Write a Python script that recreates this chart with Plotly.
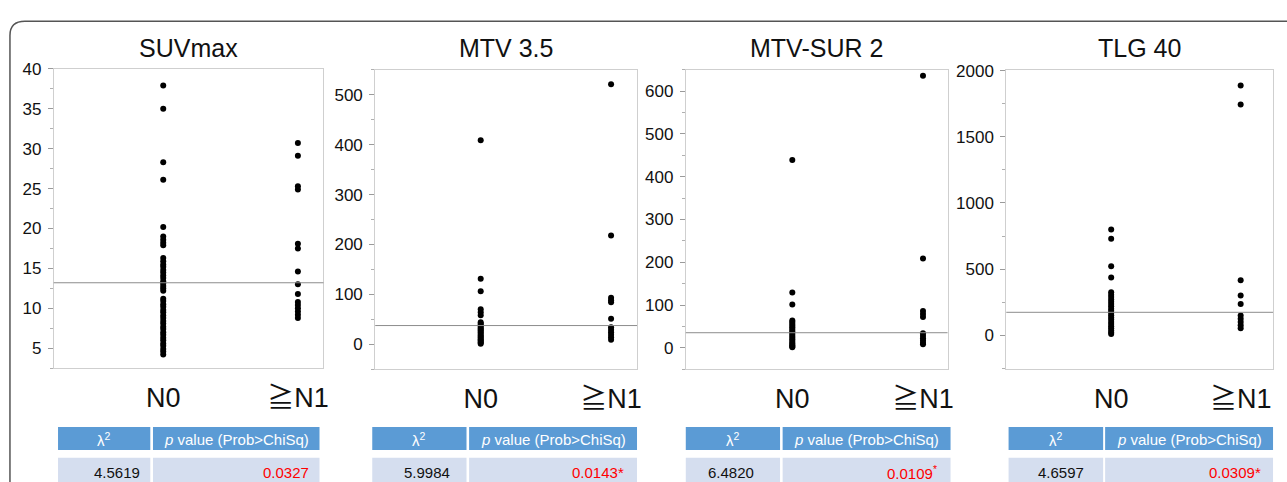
import plotly.graph_objects as go

W, H = 1287, 482

# ---------------- data ----------------
panel_titles = ["SUVmax", "MTV 3.5", "MTV-SUR 2", "TLG 40"]
group_labels = ["N0", "≧N1"]

suv_n0 = [37.9, 35.0, 28.3, 26.1, 20.2, 19.0, 18.6, 18.2, 17.9,
          16.3, 15.9, 15.5, 15.2, 14.8, 14.5, 14.1, 13.8, 13.4, 13.1, 12.8, 12.5, 12.2,
          11.2, 10.9, 10.5, 10.2, 9.8, 9.5, 9.1, 8.8, 8.4, 8.1, 7.7, 7.4, 7.0, 6.7,
          6.3, 6.0, 5.6, 5.3, 4.9, 4.6, 4.2]
suv_n1 = [30.7, 29.1, 25.3, 24.9, 18.1, 17.5, 14.6, 13.0, 11.8,
          10.8, 10.4, 10.0, 9.6, 9.2, 8.8]

mtv35_n0 = [409, 131, 106, 70, 64, 58,
            44, 41, 38, 35, 32, 29, 27, 24, 21, 18, 15, 13, 10, 8, 5, 3, 1]
mtv35_n1 = [521, 218, 93, 88, 84, 51, 34, 29, 24, 19, 14, 9]

mtvsur_n0 = [439, 129, 101,
             64, 60, 56, 52, 48, 44, 40, 36, 32, 28, 24, 20, 16, 12, 9, 6, 3, 1]
mtvsur_n1 = [636, 209, 86, 79, 72, 34, 28, 22, 17, 12, 8]

tlg_n0 = [800, 730, 522, 436,
          325, 305, 288, 270, 252, 235, 218, 200, 184, 168, 150, 134, 118,
          100, 85, 68, 52, 36, 20, 8]
tlg_n1 = [1889, 1745, 416, 300, 235, 148, 125, 100, 75, 52]

grand_means = [13.2, 37.4, 35.2, 173]

chi2_values = ["4.5619", "5.9984", "6.4820", "4.6597"]
p_values = ["0.0327", "0.0143*", "0.0109<sup>*</sup>", "0.0309*"]

series = [(suv_n0, suv_n1), (mtv35_n0, mtv35_n1),
          (mtvsur_n0, mtvsur_n1), (tlg_n0, tlg_n1)]

# ---------------- layout geometry (pixels) ----------------
FONT = "Liberation Sans, Arial, Noto Sans CJK JP, DejaVu Sans, sans-serif"


def fx(x):
    return x / W


def fy(y):
    return 1 - y / H


plot_boxes = [(54, 325, 61, 366), (377, 640, 62, 367),
              (689, 952, 62, 367), (1011, 1279, 62, 367)]
x_ranges = [[-0.813, 1.19], [-0.809, 1.199], [-0.815, 1.188], [-0.81, 1.25]]
y_ranges = [[2.5, 40], [-50, 550], [-50, 650], [-257, 2007]]
y_dticks = [5, 100, 100, 500]

fig = go.Figure()
layout = dict(
    width=W, height=H,
    margin=dict(l=0, r=0, t=0, b=0),
    paper_bgcolor="white", plot_bgcolor="white",
    showlegend=False,
    font=dict(family=FONT, color="#111111"),
)
shapes = []
annotations = []

for i, ((n0, n1), box) in enumerate(zip(series, plot_boxes)):
    k = "" if i == 0 else str(i + 1)
    xa, ya = "x" + k, "y" + k
    x0, x1, yt, yb = box
    layout["xaxis" + k] = dict(
        domain=[fx(x0), fx(x1)], range=x_ranges[i], anchor=ya,
        tickvals=[0, 1], ticktext=group_labels,
        ticks="outside", ticklen=5, tickcolor="rgba(0,0,0,0)",
        tickfont=dict(size=27, color="#111111", family=FONT),
        showline=True, linecolor="#cfcfcf", linewidth=1, mirror=True,
        showgrid=False, zeroline=False, fixedrange=True,
    )
    layout["yaxis" + k] = dict(
        domain=[fy(yb), fy(yt)], range=y_ranges[i], anchor=xa,
        dtick=y_dticks[i], tick0=0,
        ticks="outside", ticklen=5, tickcolor="#9a9a9a", tickwidth=1,
        ticklabelstandoff=3,
        minor=dict(ticks="outside", ticklen=3, dtick=y_dticks[i] / 2,
                   tickcolor="#b0b0b0", tick0=0),
        tickfont=dict(size=17, color="#111111", family=FONT),
        showline=True, linecolor="#cfcfcf", linewidth=1, mirror=True,
        showgrid=False, zeroline=False, fixedrange=True,
    )
    fig.add_trace(go.Scatter(
        x=[0] * len(n0) + [1] * len(n1), y=list(n0) + list(n1),
        mode="markers", xaxis=xa, yaxis=ya,
        marker=dict(color="black", size=6, line=dict(width=0)),
        hoverinfo="y",
    ))
    # grand mean line
    shapes.append(dict(type="line", xref=xa + " domain", yref=ya,
                       x0=0, x1=1, y0=grand_means[i], y1=grand_means[i],
                       line=dict(color="#8c8c8c", width=1)))
    # panel title
    annotations.append(dict(text=panel_titles[i], xref="paper", yref="paper",
                            x=fx((x0 + x1) / 2), y=fy(40), xanchor="center",
                            yanchor="middle", showarrow=False,
                            font=dict(size=25, color="#111111", family=FONT)))

# ---------------- tables ----------------
table_cols = [((58.3, 151), (153.7, 321)), ((374, 468.7), (471.3, 640)),
              ((689, 783.7), (786.3, 955)), ((1013.3, 1108.3), (1110.3, 1279))]
chi_right = [141.7, 453.3, 758.3, 1090]
p_right = [311.7, 627.7, 942.5, 1268.3]
HEAD = (426, 449.3)
ROW = (457.3, 495)
HEAD_FILL = "#5B9BD5"
ROW_FILL = "#D5DEEF"

for i, (c1, c2) in enumerate(table_cols):
    for (a, b) in (c1, c2):
        shapes.append(dict(type="rect", xref="paper", yref="paper",
                           x0=fx(a), x1=fx(b), y0=fy(HEAD[1]), y1=fy(HEAD[0]),
                           fillcolor=HEAD_FILL, line=dict(width=0), layer="below"))
        shapes.append(dict(type="rect", xref="paper", yref="paper",
                           x0=fx(a), x1=fx(b), y0=fy(ROW[1]), y1=fy(ROW[0]),
                           fillcolor=ROW_FILL, line=dict(width=0), layer="below"))
    hy = fy(439)
    annotations.append(dict(text="λ<sup>2</sup>", xref="paper", yref="paper",
                            x=fx((c1[0] + c1[1]) / 2), y=hy, xanchor="center",
                            yanchor="middle", showarrow=False,
                            font=dict(size=15, color="white", family=FONT)))
    annotations.append(dict(text="<i>p</i> value (Prob>ChiSq)", xref="paper",
                            yref="paper", x=fx((c2[0] + c2[1]) / 2), y=hy,
                            xanchor="center", yanchor="middle", showarrow=False,
                            font=dict(size=15, color="white", family=FONT)))
    ry = fy(472.3)
    annotations.append(dict(text=chi2_values[i], xref="paper", yref="paper",
                            x=fx(chi_right[i]), y=ry, xanchor="right",
                            yanchor="middle", showarrow=False, borderpad=0,
                            font=dict(size=15, color="#111111", family=FONT)))
    annotations.append(dict(text=p_values[i], xref="paper", yref="paper",
                            x=fx(p_right[i]), y=ry, xanchor="right",
                            yanchor="middle", showarrow=False, borderpad=0,
                            font=dict(size=15, color="#ff0000", family=FONT)))

# ---------------- outer rounded frame ----------------
frame_path = "M {a},{b} L {a},{c} Q {a},{d} {e},{d} L {f},{d}".format(
    a=fx(10), b=fy(500), c=fy(27), d=fy(12.5), e=fx(25), f=fx(1300))
shapes.append(dict(type="path", xref="paper", yref="paper", path=frame_path,
                   line=dict(color="#555555", width=1.5)))

layout["shapes"] = shapes
layout["annotations"] = annotations
fig.update_layout(**layout)
fig.write_html("out.html",
               config={"displayModeBar": False},
               post_script="document.body.style.margin='0';"
                           "document.body.style.overflow='hidden';")
